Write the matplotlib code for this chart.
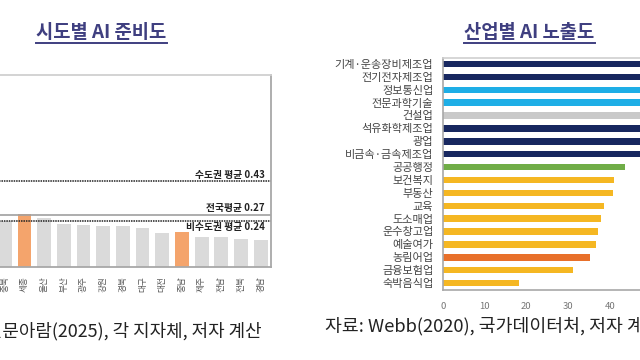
import numpy as np
import matplotlib
matplotlib.use('Agg')
import matplotlib.pyplot as plt
from matplotlib.lines import Line2D

plt.rcParams['font.family'] = ['Noto Sans CJK KR', 'DejaVu Sans']

# ---- left chart: 시도별 AI 준비도 ----
regions = ['서울', '경기', '인천', '충북', '세종', '울산', '부산', '광주', '강원',
           '경북', '대구', '대전', '충남', '제주', '전남', '전북', '경남']
readiness = [0.58, 0.41, 0.30, 0.24, 0.275, 0.256, 0.23, 0.225, 0.22,
             0.218, 0.207, 0.187, 0.192, 0.168, 0.166, 0.16, 0.152]
highlight = ['세종', '충남']
avg_capital = 0.43
avg_nation = 0.27
avg_noncapital = 0.24

# ---- right chart: 산업별 AI 노출도 ----
industries = ['기계·운송장비제조업', '전기전자제조업', '정보통신업', '전문과학기술', '건설업',
              '석유화학제조업', '광업', '비금속·금속제조업', '공공행정', '보건복지', '부동산',
              '교육', '도소매업', '운수창고업', '예술여가', '농림어업', '금융보험업', '숙박음식업']
exposure = [62, 60, 58, 56, 54, 52, 50, 49, 43.6, 41.0, 40.7, 38.5, 37.9, 37.1, 36.7, 35.3, 31.1, 18.2]
ind_colors = ['#17275f', '#17275f', '#1eaee6', '#1eaee6', '#c9c9c9', '#17275f', '#17275f', '#17275f',
              '#70ad47', '#f5b722', '#f5b722', '#f5b722', '#f5b722', '#f5b722', '#f5b722',
              '#e8702a', '#f5b722', '#f5b722']

W, H = 640, 360
fig = plt.figure(figsize=(6.4, 3.6), dpi=100)
fig.patch.set_facecolor('white')

def frac(x0, y0, x1, y1):
    # pixel box (top-left origin) -> figure fraction
    return [x0 / W, 1 - y1 / H, (x1 - x0) / W, (y1 - y0) / H]

title_color = '#3f3f80'

# left axes (extends beyond the left edge, as in the cropped reference)
ax1 = fig.add_axes(frac(-64.0, 75, 270.5, 267))
x = np.arange(len(regions))
cols = ['#f4a46c' if r in highlight else '#dadada' for r in regions]
ax1.bar(x, readiness, width=0.7, color=cols, zorder=1)
ax1.set_xlim(-0.5, len(regions) - 0.5)
ax1.set_ylim(0.027, 0.924)
ax1.axhline(avg_capital, color='#222222', lw=1.1, ls=(0, (1, 0.6)), zorder=2)
ax1.axhline(avg_nation, color='#a0a0a0', lw=1.2, zorder=2)
ax1.axhline(avg_noncapital, color='#222222', lw=1.1, ls=(0, (1, 0.6)), zorder=2)
fs_avg = 7.0
ax1.annotate(f'수도권 평균 {avg_capital}', xy=(1, avg_capital), xycoords=('axes fraction', 'data'),
             xytext=(-6, 1), textcoords='offset pixels', ha='right', va='bottom',
             fontsize=fs_avg, fontweight='bold', color='#222222')
ax1.annotate(f'전국평균 {avg_nation}', xy=(1, avg_nation), xycoords=('axes fraction', 'data'),
             xytext=(-6, 2), textcoords='offset pixels', ha='right', va='bottom',
             fontsize=fs_avg, fontweight='bold', color='#222222')
ax1.annotate(f'비수도권 평균 {avg_noncapital}', xy=(1, avg_noncapital), xycoords=('axes fraction', 'data'),
             xytext=(-6, -1), textcoords='offset pixels', ha='right', va='top',
             fontsize=fs_avg, fontweight='bold', color='#222222')
ax1.set_xticks(x)
ax1.set_xticklabels(regions, rotation=90, fontsize=6.2, color='#555555')
ax1.tick_params(axis='x', length=0, pad=7)
ax1.set_yticks([])
for name, sp in ax1.spines.items():
    sp.set_color('#a8a8a8')
    sp.set_linewidth(1.3)
ax1.spines['top'].set_color('#d0d0d0')

# right axes (extends beyond the right edge)
ax2 = fig.add_axes(frac(443, 57.5, 443 + 70 * 4.17, 289.5))
y = np.arange(len(industries))
ax2.barh(y, exposure, height=0.5, color=ind_colors, zorder=1)
ax2.set_ylim(len(industries) - 0.5, -0.5)
ax2.set_xlim(0, 70)
ax2.set_yticks(y)
ax2.set_yticklabels(industries, fontsize=8.0, color='#444444')
ax2.tick_params(axis='y', length=0, pad=7)
ax2.set_xticks([0, 10, 20, 30, 40, 50, 60, 70])
ax2.tick_params(axis='x', length=0, pad=9, labelsize=6.8, labelcolor='#777777')
for name, sp in ax2.spines.items():
    sp.set_color('#a8a8a8')
    sp.set_linewidth(1.2)
ax2.spines['top'].set_color('#d0d0d0')

# titles with underline
t1 = fig.text(101.5 / W, 1 - 32 / H, '시도별 AI 준비도', ha='center', va='center',
              fontsize=13.5, fontweight='bold', color=title_color)
t2 = fig.text(529.5 / W, 1 - 32 / H, '산업별 AI 노출도', ha='center', va='center',
              fontsize=13.5, fontweight='bold', color=title_color)
fig.canvas.draw()
for t in (t1, t2):
    bb = t.get_window_extent()
    yy = (bb.y0 - 1) / H
    fig.add_artist(Line2D([bb.x0 / W, bb.x1 / W], [yy, yy], transform=fig.transFigure,
                          color=title_color, lw=1.4))

# sources
fig.text(262 / W, 1 - 331 / H, '자료: 신문아람(2025), 각 지자체, 저자 계산', ha='right', va='center',
         fontsize=12.9, color='#222222')
fig.text(325 / W, 1 - 326 / H, '자료: Webb(2020), 국가데이터처, 저자 계산', ha='left', va='center',
         fontsize=13.2, color='#222222')

fig.savefig('out.png', dpi=100, facecolor=fig.get_facecolor())
